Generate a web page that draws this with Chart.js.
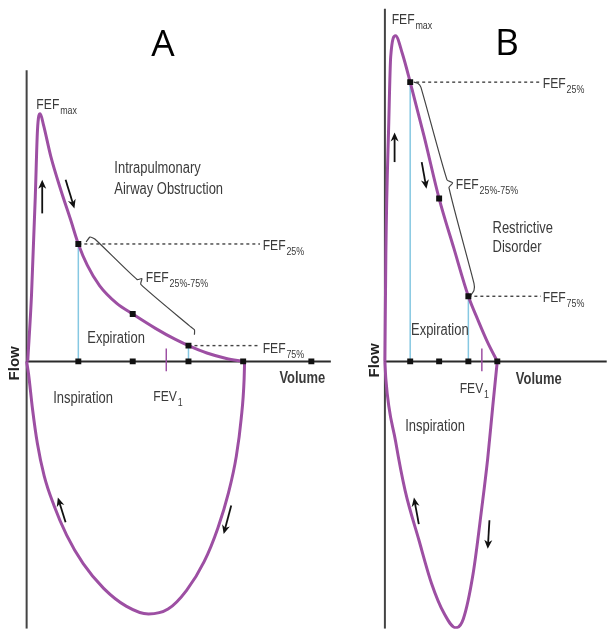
<!DOCTYPE html>
<html>
<head>
<meta charset="utf-8">
<script src="https://cdn.jsdelivr.net/npm/chart.js@4.4.1/dist/chart.umd.min.js"></script>
<style>
  html, body { margin: 0; padding: 0; background: #fff; }
  #wrapA { position: absolute; left: 0; top: 0; width: 340px; height: 633px; }
  #wrapB { position: absolute; left: 340px; top: 0; width: 271px; height: 633px; }
</style>
</head>
<body>
<div id="wrapA"><canvas id="chartA"></canvas></div>
<div id="wrapB"><canvas id="chartB"></canvas></div>
<script>
// flow-volume loops, volume on x (L), flow on y (L/s)

// A - intrapulmonary airway obstruction
const expA = [[0.02,0],[0.09,2.68],[0.16,6.68],[0.2,9.36],[0.25,10.04],[0.31,9.6],[0.45,8.28],
  [0.63,6.96],[0.81,5.76],[0.955,4.76],[1.12,3.9],[1.35,3.06],[1.66,2.36],[1.96,1.92],
  [2.38,1.34],[2.74,0.9],[2.99,0.64],[3.33,0.34],[3.69,0.12],[4.0,0]];
const inspA = [[0,0],[0.036,-0.52],[0.108,-1.92],[0.198,-3.32],[0.324,-4.64],[0.505,-5.84],
  [0.739,-7.04],[1.045,-8.2],[1.423,-9.2],[1.838,-9.92],[2.252,-10.24],[2.613,-10.04],
  [2.955,-9.28],[3.279,-8.12],[3.532,-6.76],[3.73,-5.32],[3.874,-3.84],[3.964,-2.32],
  [4.018,-0.72],[4.027,0]];
const fefA = [[0.955,4.76],[1.96,1.92],[2.99,0.64]];   // FEF25, FEF50, FEF75
const volTicksA = [0.955,1.96,2.99,4.0,5.26];
const fev1A = 2.58;
const braceA = [[1.1,4.84],[1.17,5.04],[1.26,4.96],[2.04,3.32],[2.13,3.36],[2.11,3.12],
  [3.01,1.44],[3.1,1.28],[3.1,1.08]];

// B - restrictive disorder
const expB = [[0,0],[0.034,4.36],[0.138,9.68],[0.207,12.36],[0.38,13.2],[0.62,12.48],
  [0.9,11.32],[1.4,9.1],[1.93,6.6],[2.45,4.6],[2.97,2.64],[3.31,1.68],
  [3.66,0.76],[4.0,0]];
const inspB = [[0,0],[0.034,-0.72],[0.38,-3.24],[0.72,-5.24],[1.21,-7.24],[1.66,-9.0],
  [2.1,-10.2],[2.52,-10.8],[2.79,-10.44],[3.14,-8.6],[3.45,-5.92],[3.66,-3.92],
  [3.83,-1.92],[3.97,-0.32],[4.0,0]];
const fefB = [[0.9,11.32],[1.93,6.6],[2.97,2.64]];
const volTicksB = [0.9,1.93,2.97,4.0];
const fev1B = 3.45;
const braceB = [[1.03,11.32],[1.17,11.28],[1.28,11.12],[2.21,7.36],[2.41,7.24],[2.28,7.04],
  [3.17,3.16],[3.17,2.88],[3.03,2.64]];

const PURPLE = "#9d4fa3";
const BLUE = "#86c8e2";
const INK = "#3a3a3a";

const pts = arr => arr.map(p => ({ x: p[0], y: p[1] }));

function lineSet(data, color, width, extra) {
  return Object.assign({
    data: data, showLine: true, borderColor: color, borderWidth: width,
    pointRadius: 0, fill: false, tension: 0
  }, extra || {});
}

function buildDatasets(exp, insp, fef, ticks, fev1, brace, axisTop, axisRight, guideEnd) {
  const sets = [];
  // square markers on top
  sets.push({
    data: pts(fef.concat(ticks.map(v => [v, 0]))), showLine: false,
    pointStyle: "rect", pointRadius: 4.2, backgroundColor: "#111", borderWidth: 0
  });
  sets.push(lineSet(pts(exp), PURPLE, 3, { cubicInterpolationMode: "monotone" }));
  sets.push(lineSet(pts(insp), PURPLE, 3, { cubicInterpolationMode: "monotone" }));
  sets.push(lineSet(pts([[fev1, 0.52], [fev1, -0.4]]), PURPLE, 1.5));
  // FEF25 / FEF75 guides
  [fef[0], fef[2]].forEach(p => {
    sets.push(lineSet(pts([[p[0], 0], p]), BLUE, 1.5));
    sets.push(lineSet(pts([p, [guideEnd, p[1]]]), "#444", 1.4, { borderDash: [3, 3] }));
  });
  sets.push(lineSet(pts(brace), "#444", 1.2, { tension: 0.2 }));
  // axes
  sets.push(lineSet(pts([[0, 0], [axisRight, 0]]), "#2b2b2b", 2));
  sets.push(lineSet(pts([[0, -10.84], [0, axisTop]]), "#444", 2));
  return sets;
}

function drawArrow(ctx, x1, y1, x2, y2) {
  const ang = Math.atan2(y2 - y1, x2 - x1);
  const len = 9, half = 4;
  ctx.strokeStyle = "#111";
  ctx.fillStyle = "#111";
  ctx.lineWidth = 1.8;
  ctx.beginPath();
  ctx.moveTo(x1, y1);
  ctx.lineTo(x2 - Math.cos(ang) * len * 0.6, y2 - Math.sin(ang) * len * 0.6);
  ctx.stroke();
  ctx.beginPath();
  ctx.moveTo(x2, y2);
  ctx.lineTo(x2 - Math.cos(ang) * len + Math.sin(ang) * half, y2 - Math.sin(ang) * len - Math.cos(ang) * half);
  ctx.lineTo(x2 - Math.cos(ang) * len * 0.7, y2 - Math.sin(ang) * len * 0.7);
  ctx.lineTo(x2 - Math.cos(ang) * len - Math.sin(ang) * half, y2 - Math.sin(ang) * len + Math.cos(ang) * half);
  ctx.closePath();
  ctx.fill();
}

function drawLabel(ctx, l, px, py) {
  const size = l.size || 15;
  const sx = l.squeeze || 0.81;
  ctx.save();
  ctx.translate(px, py);
  if (l.rotate) ctx.rotate(-Math.PI / 2);
  ctx.fillStyle = l.color || INK;
  ctx.font = (l.bold ? "bold " : "") + size + "px " + (l.family || "'Liberation Sans', Arial, sans-serif");
  ctx.textAlign = l.align || "left";
  ctx.textBaseline = l.baseline || "alphabetic";
  ctx.scale(sx, 1);
  ctx.fillText(l.text, 0, 0);
  if (l.sub) {
    const w = ctx.measureText(l.text).width;
    ctx.font = "11px 'Liberation Sans', Arial, sans-serif";
    ctx.fillText(l.sub, w + 1, 5);
  }
  ctx.restore();
}

function notesPlugin(labels, arrows) {
  return {
    id: "notes",
    afterDatasetsDraw(chart) {
      const { ctx, scales: { x, y } } = chart;
      ctx.save();
      arrows.forEach(a => drawArrow(ctx, x.getPixelForValue(a[0]), y.getPixelForValue(a[1]),
        x.getPixelForValue(a[2]), y.getPixelForValue(a[3])));
      labels.forEach(l => drawLabel(ctx, l, x.getPixelForValue(l.v), y.getPixelForValue(l.f)));
      ctx.restore();
    }
  };
}

const labelsA = [
  { text: "A", v: 2.52, f: 12.4, size: 37, align: "center", squeeze: 1, color: "#000", family: "'Open Sans', sans-serif" },
  { text: "FEF", sub: "max", v: 0.18, f: 10.24 },
  { text: "Intrapulmonary", v: 1.62, f: 7.64, size: 16 },
  { text: "Airway Obstruction", v: 1.62, f: 6.8, size: 16 },
  { text: "FEF", sub: "25%", v: 4.36, f: 4.52 },
  { text: "FEF", sub: "25%-75%", v: 2.2, f: 3.2 },
  { text: "Expiration", v: 1.12, f: 0.76, size: 16 },
  { text: "FEF", sub: "75%", v: 4.36, f: 0.36 },
  { text: "Volume", v: 4.67, f: -0.88, size: 16, bold: true },
  { text: "Inspiration", v: 0.49, f: -1.68, size: 16 },
  { text: "FEV", sub: "1", v: 2.34, f: -1.6 },
  { text: "Flow", v: -0.22, f: -0.08, size: 15, bold: true, rotate: true, align: "center", baseline: "middle", squeeze: 1, color: "#222" }
];
const arrowsA = [[0.288, 6.0, 0.288, 7.36], [0.72, 7.36, 0.883, 6.2], [0.72, -6.52, 0.577, -5.52], [3.78, -5.84, 3.64, -7.0]];

const labelsB = [
  { text: "B", v: 4.34, f: 12.44, size: 37, align: "center", squeeze: 1, color: "#000", family: "'Open Sans', sans-serif" },
  { text: "FEF", sub: "max", v: 0.24, f: 13.68 },
  { text: "FEF", sub: "25%", v: 5.62, f: 11.08 },
  { text: "FEF", sub: "25%-75%", v: 2.52, f: 7.0 },
  { text: "Restrictive", v: 3.83, f: 5.2, size: 16 },
  { text: "Disorder", v: 3.83, f: 4.44, size: 16 },
  { text: "FEF", sub: "75%", v: 5.62, f: 2.4 },
  { text: "Expiration", v: 0.93, f: 1.08, size: 16 },
  { text: "FEV", sub: "1", v: 2.66, f: -1.28 },
  { text: "Volume", v: 4.66, f: -0.92, size: 16, bold: true },
  { text: "Inspiration", v: 0.72, f: -2.84, size: 16 },
  { text: "Flow", v: -0.36, f: 0.04, size: 15, bold: true, rotate: true, align: "center", baseline: "middle", squeeze: 1, color: "#222" }
];
const arrowsB = [[0.345, 8.08, 0.345, 9.28], [1.31, 8.08, 1.48, 7.0], [1.207, -6.6, 1.034, -5.52], [3.72, -6.44, 3.66, -7.6]];

function makeChart(id, datasets, xMin, xMax, labels, arrows) {
  return new Chart(document.getElementById(id), {
    type: "scatter",
    data: { datasets: datasets },
    options: {
      responsive: true,
      maintainAspectRatio: false,
      animation: false,
      events: [],
      layout: { padding: 0 },
      scales: {
        x: { type: "linear", min: xMin, max: xMax, display: false },
        y: { type: "linear", min: -10.84, max: 14.48, display: false }
      },
      plugins: { legend: { display: false }, tooltip: { enabled: false } }
    },
    plugins: [notesPlugin(labels, arrows)]
  });
}

makeChart("chartA", buildDatasets(expA, inspA, fefA, volTicksA, fev1A, braceA, 11.8, 5.62, 4.31),
  -0.4144, 5.7117, labelsA, arrowsA);
makeChart("chartB", buildDatasets(expB, inspB, fefB, volTicksB, fev1B, braceB, 14.3, 7.9, 5.55),
  -1.4483, 7.8966, labelsB, arrowsB);
</script>
</body>
</html>
